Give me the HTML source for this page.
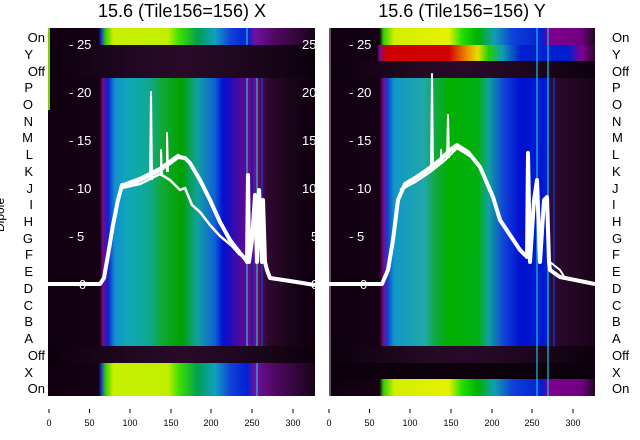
<!DOCTYPE html>
<html><head><meta charset="utf-8"><style>
html,body{margin:0;padding:0;background:#fff;width:640px;height:440px;overflow:hidden}
svg{display:block;font-family:"Liberation Sans","DejaVu Sans",sans-serif}
</style></head><body>
<svg width="640" height="440" viewBox="0 0 640 440">
<defs>
<linearGradient id="lm" x1="0" x2="267" gradientUnits="userSpaceOnUse">
<stop offset="0" stop-color="#100010"/><stop offset="0.195" stop-color="#140214"/>
<stop offset="0.205" stop-color="#7a0a8a"/><stop offset="0.225" stop-color="#1020d0"/>
<stop offset="0.25" stop-color="#1090d0"/><stop offset="0.3" stop-color="#10a8b8"/>
<stop offset="0.38" stop-color="#10a890"/><stop offset="0.43" stop-color="#10a830"/>
<stop offset="0.5" stop-color="#00a000"/><stop offset="0.56" stop-color="#10a0a0"/>
<stop offset="0.625" stop-color="#1060d8"/><stop offset="0.655" stop-color="#0010d0"/>
<stop offset="0.72" stop-color="#5008a0"/><stop offset="0.775" stop-color="#701080"/>
<stop offset="0.82" stop-color="#300830"/><stop offset="0.91" stop-color="#180418"/>
<stop offset="1" stop-color="#100010"/></linearGradient>
<linearGradient id="lon" x1="0" x2="267" gradientUnits="userSpaceOnUse">
<stop offset="0" stop-color="#100010"/><stop offset="0.19" stop-color="#140214"/>
<stop offset="0.2" stop-color="#2030e0"/><stop offset="0.215" stop-color="#30d000"/>
<stop offset="0.245" stop-color="#c8f000"/><stop offset="0.45" stop-color="#c0f000"/>
<stop offset="0.49" stop-color="#40e000"/><stop offset="0.56" stop-color="#00a050"/>
<stop offset="0.625" stop-color="#10a0c0"/><stop offset="0.685" stop-color="#1040d8"/>
<stop offset="0.745" stop-color="#0020d0"/><stop offset="0.775" stop-color="#7010a0"/>
<stop offset="0.85" stop-color="#500860"/><stop offset="1" stop-color="#180418"/></linearGradient>
<linearGradient id="ldk" x1="0" x2="267" gradientUnits="userSpaceOnUse">
<stop offset="0" stop-color="#0c000c"/><stop offset="0.3" stop-color="#200820"/>
<stop offset="0.5" stop-color="#2a0a2a"/><stop offset="0.8" stop-color="#1a061a"/>
<stop offset="1" stop-color="#0c000c"/></linearGradient>
<linearGradient id="rm" x1="0" x2="266" gradientUnits="userSpaceOnUse">
<stop offset="0" stop-color="#100010"/><stop offset="0.19" stop-color="#140214"/>
<stop offset="0.205" stop-color="#800890"/><stop offset="0.22" stop-color="#1040d0"/>
<stop offset="0.245" stop-color="#1098c8"/><stop offset="0.36" stop-color="#20a8a8"/>
<stop offset="0.4" stop-color="#10a840"/><stop offset="0.45" stop-color="#00b000"/>
<stop offset="0.56" stop-color="#00b010"/><stop offset="0.6" stop-color="#10a0a0"/>
<stop offset="0.66" stop-color="#1040d8"/><stop offset="0.72" stop-color="#0010d0"/>
<stop offset="0.82" stop-color="#0020d0"/><stop offset="0.835" stop-color="#300830"/>
<stop offset="1" stop-color="#180418"/></linearGradient>
<linearGradient id="ron" x1="0" x2="266" gradientUnits="userSpaceOnUse">
<stop offset="0" stop-color="#100010"/><stop offset="0.19" stop-color="#140214"/>
<stop offset="0.205" stop-color="#30d000"/><stop offset="0.245" stop-color="#d0f000"/>
<stop offset="0.45" stop-color="#e8f000"/><stop offset="0.5" stop-color="#20e000"/>
<stop offset="0.56" stop-color="#00b000"/><stop offset="0.62" stop-color="#10a0b0"/>
<stop offset="0.69" stop-color="#1040d8"/><stop offset="0.8" stop-color="#0020d0"/>
<stop offset="0.83" stop-color="#800090"/><stop offset="0.95" stop-color="#700080"/>
<stop offset="1" stop-color="#200820"/></linearGradient>
<linearGradient id="ry" x1="0" x2="266" gradientUnits="userSpaceOnUse">
<stop offset="0" stop-color="#100010"/><stop offset="0.18" stop-color="#140214"/>
<stop offset="0.19" stop-color="#800890"/><stop offset="0.215" stop-color="#d00000"/>
<stop offset="0.45" stop-color="#d00000"/><stop offset="0.52" stop-color="#f09000"/>
<stop offset="0.56" stop-color="#e0e000"/><stop offset="0.6" stop-color="#20d000"/>
<stop offset="0.65" stop-color="#10a0b0"/><stop offset="0.72" stop-color="#0020d0"/>
<stop offset="0.9" stop-color="#0020d0"/><stop offset="0.95" stop-color="#800090"/>
<stop offset="1" stop-color="#300830"/></linearGradient>
<clipPath id="cl"><rect x="48" y="28" width="267" height="368"/></clipPath>
<clipPath id="cr"><rect x="329" y="28" width="266" height="368"/></clipPath>
</defs>
<text x="182" y="17" font-size="18" text-anchor="middle" fill="#000">15.6 (Tile156=156) X</text>
<text x="462" y="17" font-size="18" text-anchor="middle" fill="#000">15.6 (Tile156=156) Y</text>

<g transform="translate(48,0)">
<rect x="0" y="28" width="267" height="17" fill="url(#lon)"/>
<rect x="0" y="45" width="267" height="33" fill="url(#ldk)"/>
<rect x="0" y="78" width="267" height="268" fill="url(#lm)"/>
<rect x="0" y="346" width="267" height="17" fill="url(#ldk)"/>
<rect x="0" y="363" width="267" height="33" fill="url(#lon)"/>
<g stroke-width="1.2">
<line x1="199" y1="78" x2="199" y2="346" stroke="#20c0e0"/>
<line x1="204" y1="78" x2="204" y2="346" stroke="#0010d0"/>
<line x1="209" y1="78" x2="209" y2="346" stroke="#20c0e0"/>
<line x1="214" y1="78" x2="214" y2="346" stroke="#1040e0"/>
<line x1="199" y1="28" x2="199" y2="45" stroke="#20c0e0"/>
<line x1="209" y1="363" x2="209" y2="396" stroke="#20c0e0"/>
</g>
<rect x="0" y="28" width="2" height="82" fill="#80d000"/>
</g>

<g transform="translate(329,0)">
<rect x="0" y="28" width="266" height="17" fill="url(#ron)"/>
<rect x="0" y="45" width="266" height="16" fill="url(#ry)"/>
<rect x="0" y="61" width="266" height="17" fill="url(#ldk)"/>
<rect x="0" y="78" width="266" height="268" fill="url(#rm)"/>
<rect x="0" y="346" width="266" height="17" fill="url(#ldk)"/>
<rect x="0" y="363" width="266" height="16" fill="#0c000c"/>
<rect x="0" y="379" width="266" height="17" fill="url(#ron)"/>
<g stroke-width="1.2">
<line x1="208" y1="28" x2="208" y2="396" stroke="#20c0e0"/>
<line x1="213" y1="78" x2="213" y2="346" stroke="#0010d0"/>
<line x1="219" y1="28" x2="219" y2="396" stroke="#20c0e0"/>
<line x1="225" y1="78" x2="225" y2="346" stroke="#1040e0"/>
</g>
<rect x="0" y="28" width="2" height="368" fill="#c0a0c0" opacity="0.5"/>
</g>

<g clip-path="url(#cl)" fill="#fff" font-size="13">
<g fill="none" stroke="#fff" stroke-width="4" stroke-linejoin="round">
<polyline points="48,284 100,284 104,278 108,255 113,225 118,200 122,185 130,184 140,180 150,175 160,170 170,163 178,157 185,158 190,163 200,180 210,200 220,222 230,240 240,253 246,260 247,262 248,175 249,262 252,240 255,195 257,262 259,190 262,262 263,200 265,262 267,270 270,278 290,281 315,285"/>
<polyline stroke-width="2.5" points="122,188 140,184 160,174 170,180 180,190 185,188 192,205 200,212 210,225 220,236 232,246 240,255"/>
<polyline stroke-width="2.5" points="124,184 140,178 160,168 178,155 188,160"/>
<polyline stroke-width="2" points="150,180 151,92 152,180"/>
<polyline stroke-width="2" points="161,176 161,150 162,176"/>
<polyline stroke-width="2" points="167,172 167,133 168,172"/>
</g>
<text x="69" y="49">- 25</text><text x="69" y="97">- 20</text><text x="69" y="145">- 15</text>
<text x="69" y="193">- 10</text><text x="69" y="241">- 5</text><text x="79" y="289">0</text>
<text x="302" y="49">25</text><text x="302" y="97">20</text><text x="302" y="145">15</text>
<text x="302" y="193">10</text><text x="311" y="241">5</text><text x="311" y="289">0</text>
</g>

<g clip-path="url(#cr)" fill="#fff" font-size="13">
<g fill="none" stroke="#fff" stroke-width="4" stroke-linejoin="round">
<polyline points="329,284 382,284 388,270 393,240 398,200 405,184 415,178 427,170 440,160 450,150 457,145 468,152 480,167 493,197 500,220 510,235 520,250 527,257 528,153 530,262 534,200 537,180 540,262 544,200 547,197 549,262 550,270 560,277 580,281 595,284"/>
<polyline stroke-width="2.5" points="400,190 415,182 430,172 445,160 457,148 470,156"/>
<polyline stroke-width="2" points="431,170 432,74 433,170"/>
<polyline stroke-width="2" points="447,158 448,115 449,158"/>
<polyline stroke-width="2" points="441,164 441,150 442,164"/>
<polyline stroke-width="2" points="550,262 560,270 565,278"/>
</g>
<text x="349" y="49">- 25</text><text x="349" y="97">- 20</text><text x="349" y="145">- 15</text>
<text x="349" y="193">- 10</text><text x="349" y="241">- 5</text><text x="360" y="289">0</text>
</g>

<g font-size="13" fill="#000" text-anchor="end">
<text x="45" y="42">On</text><text x="33" y="59">Y</text><text x="45" y="76">Off</text>
<text x="33" y="92">P</text><text x="33" y="109">O</text><text x="33" y="126">N</text>
<text x="33" y="142">M</text><text x="33" y="159">L</text><text x="33" y="176">K</text>
<text x="33" y="193">J</text><text x="33" y="209">I</text><text x="33" y="226">H</text>
<text x="33" y="243">G</text><text x="33" y="259">F</text><text x="33" y="276">E</text>
<text x="33" y="293">D</text><text x="33" y="310">C</text><text x="33" y="326">B</text>
<text x="33" y="343">A</text><text x="45" y="360">Off</text><text x="33" y="377">X</text>
<text x="45" y="393">On</text>
</g>
<g font-size="13" fill="#000">
<text x="612" y="42">On</text><text x="612" y="59">Y</text><text x="612" y="76">Off</text>
<text x="612" y="92">P</text><text x="612" y="109">O</text><text x="612" y="126">N</text>
<text x="612" y="142">M</text><text x="612" y="159">L</text><text x="612" y="176">K</text>
<text x="612" y="193">J</text><text x="612" y="209">I</text><text x="612" y="226">H</text>
<text x="612" y="243">G</text><text x="612" y="259">F</text><text x="612" y="276">E</text>
<text x="612" y="293">D</text><text x="612" y="310">C</text><text x="612" y="326">B</text>
<text x="612" y="343">A</text><text x="612" y="360">Off</text><text x="612" y="377">X</text>
<text x="612" y="393">On</text>
</g>
<text transform="translate(4,215) rotate(-90)" font-size="12" text-anchor="middle" fill="#000">Dipole</text>

<g stroke="#000" stroke-width="1">
<line x1="49" y1="409" x2="49" y2="413"/><line x1="89.5" y1="409" x2="89.5" y2="413"/>
<line x1="130" y1="409" x2="130" y2="413"/><line x1="171" y1="409" x2="171" y2="413"/>
<line x1="211" y1="409" x2="211" y2="413"/><line x1="252" y1="409" x2="252" y2="413"/>
<line x1="293" y1="409" x2="293" y2="413"/>
<line x1="329" y1="409" x2="329" y2="413"/><line x1="369.5" y1="409" x2="369.5" y2="413"/>
<line x1="410" y1="409" x2="410" y2="413"/><line x1="451" y1="409" x2="451" y2="413"/>
<line x1="492" y1="409" x2="492" y2="413"/><line x1="532" y1="409" x2="532" y2="413"/>
<line x1="573" y1="409" x2="573" y2="413"/>
</g>
<g font-size="9" fill="#000" text-anchor="middle">
<text x="49" y="426">0</text><text x="89.5" y="426">50</text><text x="130" y="426">100</text>
<text x="171" y="426">150</text><text x="211" y="426">200</text><text x="252" y="426">250</text>
<text x="293" y="426">300</text>
<text x="329" y="426">0</text><text x="369.5" y="426">50</text><text x="410" y="426">100</text>
<text x="451" y="426">150</text><text x="492" y="426">200</text><text x="532" y="426">250</text>
<text x="573" y="426">300</text>
</g>
</svg>
</body></html>
